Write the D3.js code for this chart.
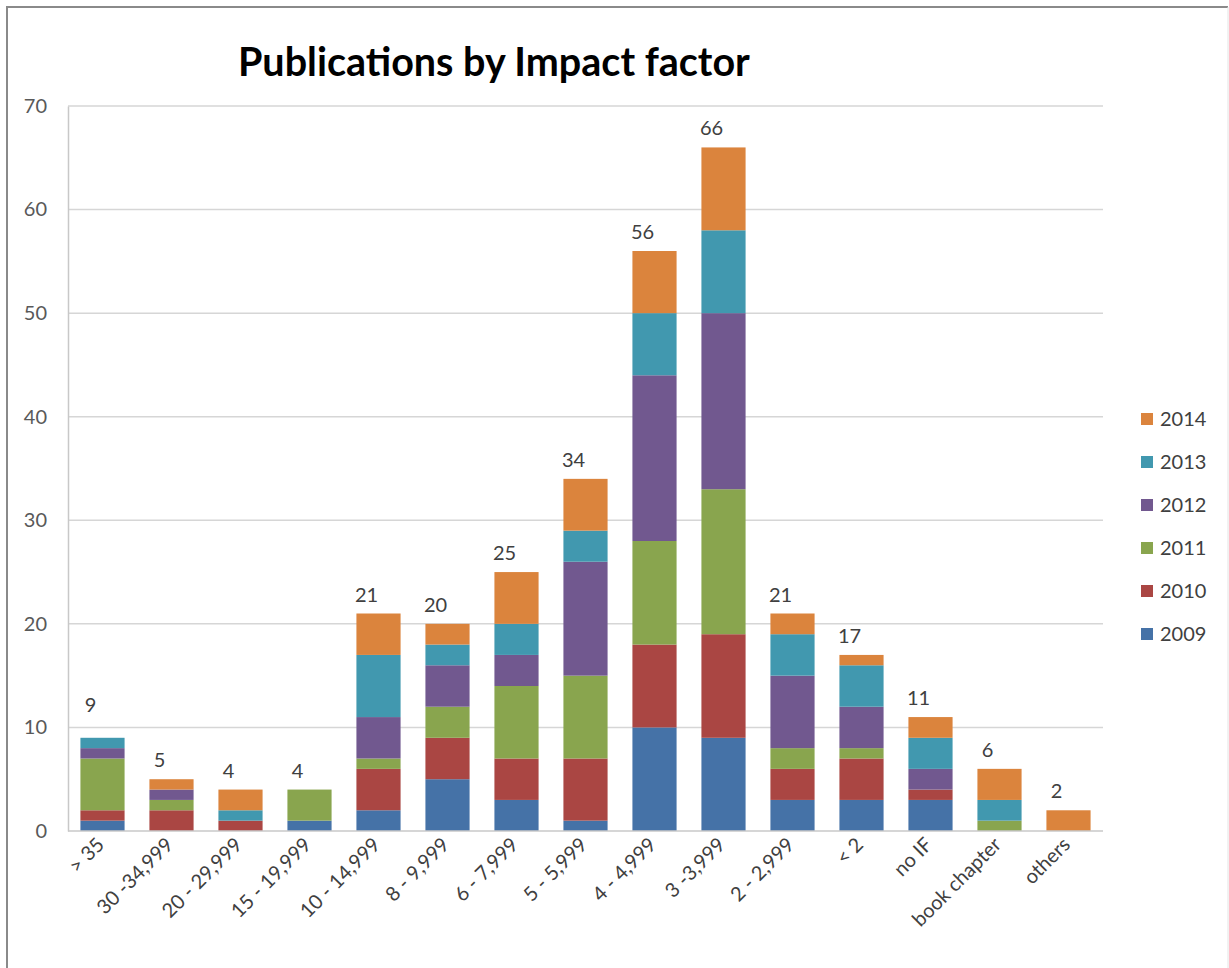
<!DOCTYPE html>
<html>
<head>
<meta charset="utf-8">
<script src="https://cdn.jsdelivr.net/npm/d3@7"></script>
<style>
  html, body { margin: 0; padding: 0; background: #fff; }
  svg { display: block; }
  text { font-family: Lato, "Liberation Sans", sans-serif; }
</style>
</head>
<body>
<svg id="chart" width="1229" height="968"></svg>
<script>
// Impact-factor bins along the x axis
const categories = [
  "> 35", "30 -34,999", "20 - 29,999", "15 - 19,999", "10 - 14,999",
  "8 - 9,999", "6 - 7,999", "5 - 5,999", "4 - 4,999", "3 -3,999",
  "2 - 2,999", "< 2", "no IF", "book chapter", "others"
];

// Publication year series, stacked bottom (2009) to top (2014)
const years = ["2009", "2010", "2011", "2012", "2013", "2014"];

const pubs2009 = [1, 0, 0, 1, 2, 5, 3, 1, 10, 9, 3, 3, 3, 0, 0];
const pubs2010 = [1, 2, 1, 0, 4, 4, 4, 6, 8, 10, 3, 4, 1, 0, 0];
const pubs2011 = [5, 1, 0, 3, 1, 3, 7, 8, 10, 14, 2, 1, 0, 1, 0];
const pubs2012 = [1, 1, 0, 0, 4, 4, 3, 11, 16, 17, 7, 4, 2, 0, 0];
const pubs2013 = [1, 0, 1, 0, 6, 2, 3, 3, 6, 8, 4, 4, 3, 2, 0];
const pubs2014 = [0, 1, 2, 0, 4, 2, 5, 5, 6, 8, 2, 1, 2, 3, 2];

// Total labels printed above each bar
const totals = [9, 5, 4, 4, 21, 20, 25, 34, 56, 66, 21, 17, 11, 6, 2];

const yTicks = [0, 10, 20, 30, 40, 50, 60, 70];

const colors = ["#4572A7", "#AA4643", "#89A54E", "#71588F", "#4198AF", "#DB843D"];

const seriesValues = [pubs2009, pubs2010, pubs2011, pubs2012, pubs2013, pubs2014];

// Row-per-category table for d3.stack
const table = categories.map((c, i) => {
  const row = { category: c };
  years.forEach((y, k) => { row[y] = seriesValues[k][i]; });
  return row;
});

const svg = d3.select("#chart");

// Chart frame
svg.append("path")
  .attr("d", "M7,968 L7,7 L1228,7")
  .attr("fill", "none")
  .attr("stroke", "#8a8a8a")
  .attr("stroke-width", 2);
svg.append("line")
  .attr("x1", 1228).attr("x2", 1228).attr("y1", 7).attr("y2", 968)
  .attr("stroke", "#e4e4e4").attr("stroke-width", 1);

const plotLeft = 68, plotRight = 1103, plotTop = 106, plotBottom = 831;

const x = d3.scaleBand()
  .domain(categories)
  .range([plotLeft, plotRight])
  .paddingInner(0.36)
  .paddingOuter(0.18);

const y = d3.scaleLinear()
  .domain([0, 70])
  .range([plotBottom, plotTop]);

// Horizontal gridlines
svg.append("g")
  .selectAll("line")
  .data(yTicks.filter(t => t > 0))
  .join("line")
  .attr("x1", plotLeft).attr("x2", plotRight)
  .attr("y1", d => y(d)).attr("y2", d => y(d))
  .attr("stroke", "#d6d6d6")
  .attr("stroke-width", 1.5);

// Y axis (labels only, Excel style)
const yAxis = svg.append("g")
  .attr("transform", `translate(${plotLeft},0)`)
  .call(d3.axisLeft(y).tickValues(yTicks).tickSize(0).tickPadding(21));
yAxis.select(".domain").attr("stroke", "#c8c8c8").attr("stroke-width", 1.5);
yAxis.selectAll("text")
  .attr("font-size", 20)
  .attr("fill", "#595959");

// Stacked bars
const stack = d3.stack().keys(years);
const layers = stack(table);

svg.append("g")
  .selectAll("g")
  .data(layers)
  .join("g")
  .attr("fill", (d, i) => colors[i])
  .selectAll("rect")
  .data(d => d)
  .join("rect")
  .attr("x", d => x(d.data.category))
  .attr("width", x.bandwidth())
  .attr("y", d => y(d[1]))
  .attr("height", d => y(d[0]) - y(d[1]));

// Bottom axis line
svg.append("line")
  .attr("x1", plotLeft).attr("x2", plotRight)
  .attr("y1", plotBottom).attr("y2", plotBottom)
  .attr("stroke", "#c8c8c8").attr("stroke-width", 1.5);

// Total labels above bars; the first one sits higher to clear the 10 gridline
const labelLift = { "> 35": 14 };
svg.append("g")
  .selectAll("text")
  .data(categories)
  .join("text")
  .attr("x", d => x(d) + x.bandwidth() / 2 - 12)
  .attr("y", (d, i) => y(totals[i]) - 12 - (labelLift[d] || 0))
  .attr("text-anchor", "middle")
  .attr("font-size", 20)
  .attr("fill", "#404040")
  .text((d, i) => totals[i]);

// Rotated category labels
svg.append("g")
  .selectAll("text")
  .data(categories)
  .join("text")
  .attr("transform", d => `translate(${x(d) + x.bandwidth() / 2 - 2},${plotBottom + 10}) rotate(-45)`)
  .attr("text-anchor", "end")
  .attr("dy", "0.35em")
  .attr("font-size", 20)
  .attr("fill", "#404040")
  .text(d => d);

// Legend, newest year at the top
const legendYears = years.slice().reverse();
const legend = svg.append("g")
  .selectAll("g")
  .data(legendYears)
  .join("g")
  .attr("transform", (d, i) => `translate(1141,${419 + i * 43})`);
legend.append("rect")
  .attr("x", 0).attr("y", -6)
  .attr("width", 12).attr("height", 12)
  .attr("fill", d => colors[years.indexOf(d)]);
legend.append("text")
  .attr("x", 19)
  .attr("dy", "0.36em")
  .attr("font-size", 20)
  .attr("fill", "#404040")
  .text(d => d);

// Title
const title = svg.append("text")
  .attr("x", 238)
  .attr("y", 76)
  .attr("font-size", 32)
  .attr("font-weight", "bold")
  .attr("fill", "#000")
  .text("Publications by Impact factor");
const tw = title.node().getComputedTextLength();
title.attr("font-size", 32 * 512 / tw);
</script>
</body>
</html>
